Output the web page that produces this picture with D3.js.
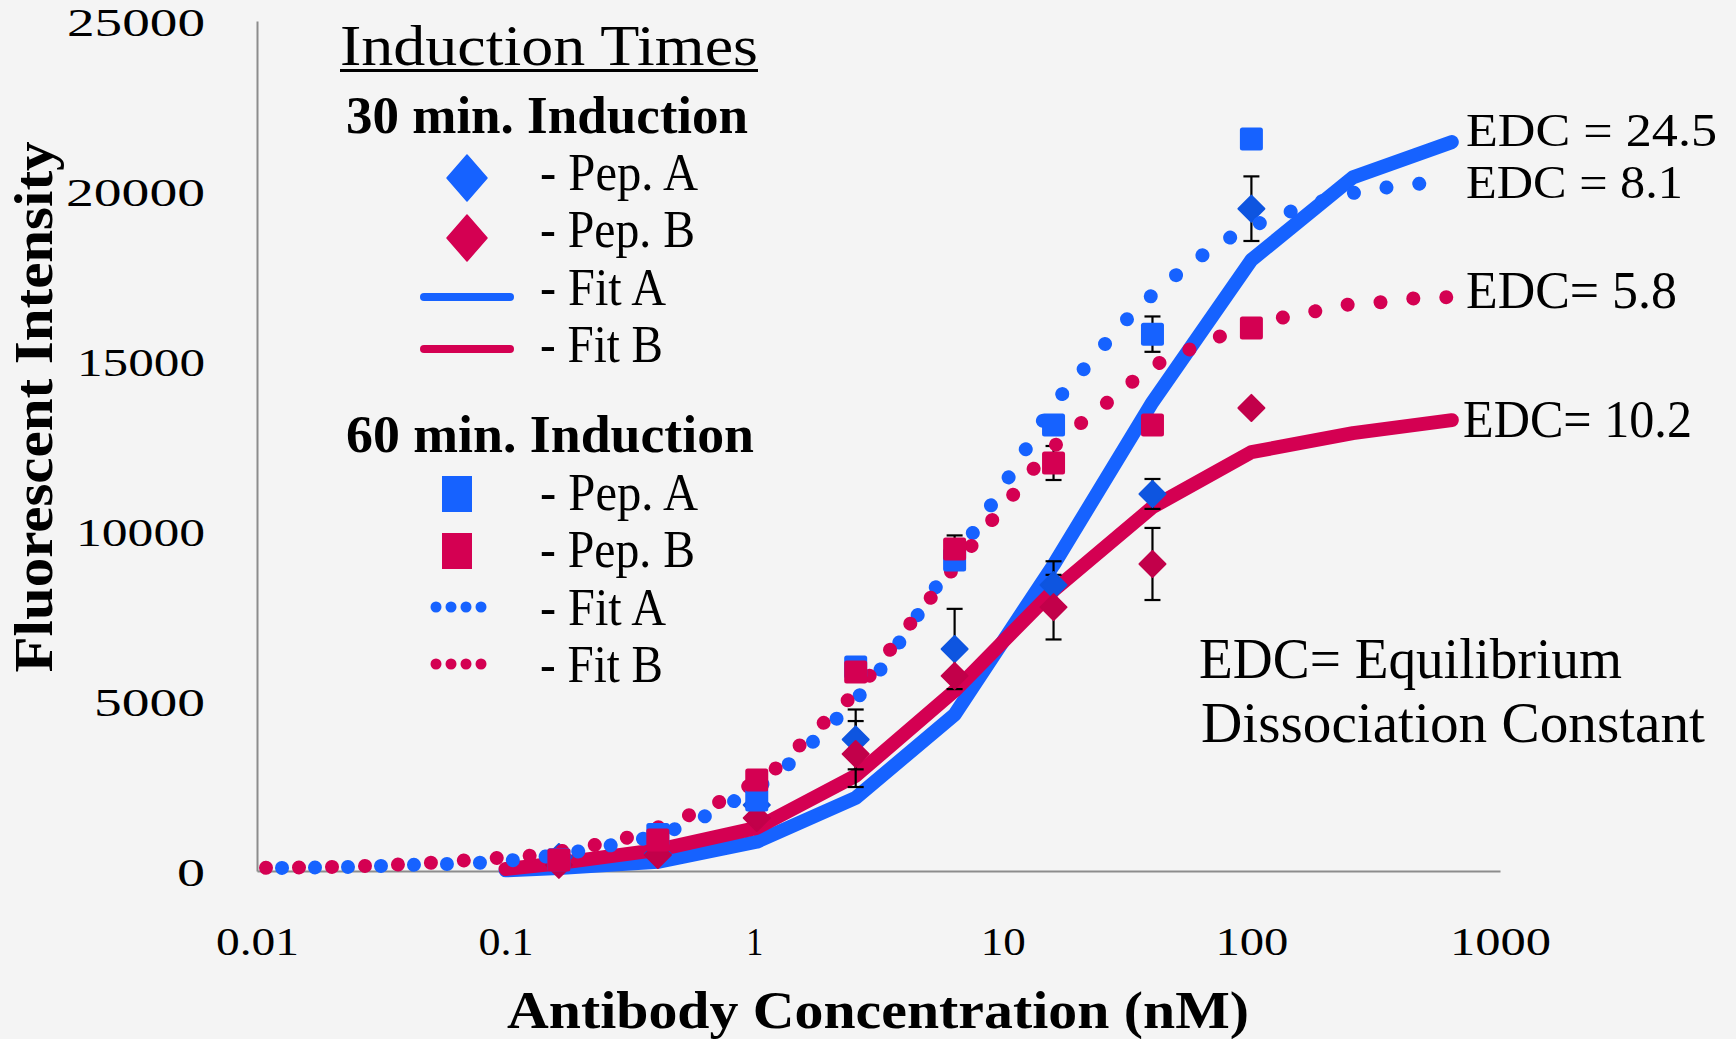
<!DOCTYPE html>
<html><head><meta charset="utf-8">
<script src="https://cdn.jsdelivr.net/npm/d3@7"></script>
<style>html,body{margin:0;padding:0;background:#F4F4F4;overflow:hidden}</style>
</head><body><svg id="chart" width="1736" height="1039"></svg>
<script>
// ---------- DATA ----------
const xTickValues = [0.01, 0.1, 1, 10, 100, 1000];
const xTickLabels = ["0.01", "0.1", "1", "10", "100", "1000"];
const yTickValues = [0, 5000, 10000, 15000, 20000, 25000];
const yTickLabels = ["0", "5000", "10000", "15000", "20000", "25000"];

// measured concentrations (nM)
const conc = [0.16384, 0.4096, 1.024, 2.56, 6.4, 16, 40, 100];
// 30 min induction (diamonds)
const pepA30 = [410, 500, 1940, 3870, 6530, 8410, 11090, 19480];
const pepA30Err = [0, 0, 0, 880, 1180, 700, 440, 950];
const pepB30 = [180, 470, 1560, 3440, 5740, 7760, 9030, 13620];
const pepB30Err = [0, 0, 0, 970, 0, 950, 1060, 0];
// 60 min induction (squares)
const pepA60 = [330, 1070, 2090, 6000, 9150, 13120, 15790, 21530];
const pepA60Err = [0, 0, 0, 0, 0, 0, 520, 0];
const pepB60 = [320, 910, 2680, 5850, 9470, 12000, 13120, 15970];
const pepB60Err = [0, 0, 0, 0, 400, 500, 0, 0];

// 30 min fits (solid)
const fitConc30 = [0.1, 0.16384, 0.4096, 1.024, 2.56, 6.4, 16, 40, 100, 256, 640];
const fitA30 = [20, 90, 270, 860, 2150, 4600, 9000, 13790, 17970, 20400, 21440];
const fitB30 = [60, 230, 620, 1270, 2800, 5300, 8250, 10700, 12320, 12880, 13260];

// 60 min fits (dotted)
const fitConcA60 = [0.01, 0.0126, 0.0232, 0.042, 0.0774, 0.139, 0.246, 0.446, 0.763, 1.26, 1.96, 2.95, 4.2, 5.8, 8.1, 11.2, 15.3, 22.2, 33.1, 51.7, 84.4, 145.6, 256, 468, 640];
const fitA60 = [80, 90, 120, 180, 240, 410, 710, 1150, 1910, 2910, 4200, 5560, 7150, 8710, 10260, 11880, 13500, 14940, 16380, 17620, 18680, 19410, 19940, 20210, 20320];
const fitConcB60 = [0.01, 0.0274, 0.0497, 0.0907, 0.121, 0.2185, 0.294, 0.512, 0.683, 0.885, 1.158, 1.43, 1.77, 2.21, 2.71, 3.27, 3.93, 4.73, 5.69, 8.24, 9.93, 12.05, 14.4, 17.96, 22.6, 28.8, 36.3, 46.6, 61, 80.5, 106, 143, 192, 256, 348, 468, 640];
const fitB60 = [90, 150, 240, 380, 440, 740, 940, 1560, 1940, 2380, 2880, 3500, 4150, 4790, 5470, 6200, 6970, 7700, 8470, 9940, 10680, 11410, 12150, 12790, 13410, 14000, 14620, 15090, 15440, 15820, 16120, 16320, 16500, 16680, 16740, 16850, 16880];

const edcLabels = ["EDC = 24.5", "EDC = 8.1", "EDC= 5.8", "EDC= 10.2"];

// ---------- STYLE ----------
const BLUE = "#1662FF", RED = "#D40052";
const BLUE_D = "#0E55E0", RED_D = "#C2004A";
const FONT = "'Liberation Serif', 'Times New Roman', serif";

const svg = d3.select("#chart");
svg.append("rect").attr("width", 1736).attr("height", 1039).attr("fill", "#F4F4F4");

const x = d3.scaleLog().domain([0.01, 1000]).range([257, 1500]);
const y = d3.scaleLinear().domain([0, 25000]).range([871, 21]);

function txt(parent, str, px, py, size, weight, len, anchor) {
  let sx = px;
  if (anchor === "middle") sx = px - len / 2;
  else if (anchor === "end") sx = px - len;
  return parent.append("text").attr("x", sx).attr("y", py)
    .attr("font-family", FONT).attr("font-size", size).attr("font-weight", weight || "normal")
    .attr("fill", "#000").attr("textLength", len).attr("lengthAdjust", "spacingAndGlyphs")
    .text(str);
}
const digitW = {"0": 28, "1": 17, "2": 27, "5": 27, ".": 10};
const numW = s => s.split("").reduce((a, c) => a + (digitW[c] || 26), 0);

// ---------- AXES ----------
const gx = svg.append("g").attr("transform", "translate(0,871)")
  .call(d3.axisBottom(x).tickValues(xTickValues).tickSize(0).tickSizeOuter(0)
    .tickFormat((d, i) => xTickLabels[i]));
gx.attr("font-family", FONT).attr("font-size", 40);
gx.select(".domain").attr("stroke", "#8C8C8C").attr("stroke-width", 2);
gx.selectAll(".tick text").each(function (d, i) {
  const len = numW(xTickLabels[i]);
  d3.select(this).attr("x", -len / 2).attr("y", 84).attr("dy", null)
    .attr("text-anchor", "start").attr("fill", "#000")
    .attr("textLength", len).attr("lengthAdjust", "spacingAndGlyphs");
});

const gy = svg.append("g").attr("transform", "translate(257,0)")
  .call(d3.axisLeft(y).tickValues(yTickValues).tickSize(0).tickSizeOuter(0)
    .tickFormat((d, i) => yTickLabels[i]));
gy.attr("font-family", FONT).attr("font-size", 40);
gy.select(".domain").attr("stroke", "#8C8C8C").attr("stroke-width", 2);
gy.selectAll(".tick text").each(function (d, i) {
  const len = numW(yTickLabels[i]);
  d3.select(this).attr("x", -52 - len).attr("y", 14).attr("dy", null)
    .attr("text-anchor", "start").attr("fill", "#000")
    .attr("textLength", len).attr("lengthAdjust", "spacingAndGlyphs");
});

// axis titles
txt(svg, "Antibody Concentration (nM)", 878, 1028, 53, "bold", 742, "middle");
const yt = svg.append("g").attr("transform", "translate(52,407) rotate(-90)");
txt(yt, "Fluorescent Intensity", 0, 0, 54, "bold", 531, "middle");

// ---------- SERIES ----------
const plot = svg.append("g");
const solid = (cs, vs) => d3.line().x((d, i) => x(cs[i])).y(d => y(d))(vs);
const smooth = (cs, vs) => d3.line().x((d, i) => x(cs[i])).y(d => y(d)).curve(d3.curveMonotoneX)(vs);

// solid fit lines (30 min)
plot.append("path").attr("d", solid(fitConc30, fitA30)).attr("fill", "none")
  .attr("stroke", BLUE).attr("stroke-width", 14).attr("stroke-linecap", "round").attr("stroke-linejoin", "round");
plot.append("path").attr("d", solid(fitConc30, fitB30)).attr("fill", "none")
  .attr("stroke", RED).attr("stroke-width", 14).attr("stroke-linecap", "round").attr("stroke-linejoin", "round");

// error bars
function errorBars(vals, errs) {
  conc.forEach((c, i) => {
    if (!errs[i]) return;
    const cx = x(c), y1 = y(vals[i] - errs[i]), y2 = y(vals[i] + errs[i]);
    const g = plot.append("g").attr("stroke", "#000").attr("stroke-width", 2.2);
    g.append("line").attr("x1", cx).attr("x2", cx).attr("y1", y1).attr("y2", y2);
    g.append("line").attr("x1", cx - 8).attr("x2", cx + 8).attr("y1", y1).attr("y2", y1);
    g.append("line").attr("x1", cx - 8).attr("x2", cx + 8).attr("y1", y2).attr("y2", y2);
  });
}
errorBars(pepA30, pepA30Err);
errorBars(pepB30, pepB30Err);
errorBars(pepA60, pepA60Err);
errorBars(pepB60, pepB60Err);

// diamonds (30 min)
function diamonds(vals, color) {
  plot.append("g").selectAll("path").data(vals).join("path")
    .attr("transform", (d, i) => `translate(${x(conc[i])},${y(d)})`)
    .attr("d", "M0,-13L13,0L0,13L-13,0Z")
    .attr("fill", color).attr("stroke", color).attr("stroke-width", 2).attr("stroke-linejoin", "round");
}
diamonds(pepA30, BLUE_D);
diamonds(pepB30, RED_D);

// dotted fit lines (60 min)
plot.append("path").attr("d", smooth(fitConcA60, fitA60)).attr("fill", "none")
  .attr("stroke", BLUE).attr("stroke-width", 14).attr("stroke-linecap", "round")
  .attr("stroke-dasharray", "0.01 32.99").attr("stroke-dashoffset", -25);
plot.append("path").attr("d", smooth(fitConcB60, fitB60)).attr("fill", "none")
  .attr("stroke", RED).attr("stroke-width", 14).attr("stroke-linecap", "round")
  .attr("stroke-dasharray", "0.01 32.99").attr("stroke-dashoffset", -9);

// squares (60 min)
function squares(vals, color) {
  plot.append("g").selectAll("rect").data(vals).join("rect")
    .attr("x", (d, i) => x(conc[i]) - 11.5).attr("y", d => y(d) - 11.5)
    .attr("width", 23).attr("height", 23).attr("rx", 2.5)
    .attr("fill", color);
}
squares(pepA60, BLUE);
squares(pepB60, RED);

// ---------- LEGEND ----------
const lg = svg.append("g");
txt(lg, "Induction Times", 340, 65, 58, "normal", 418, "start");
lg.append("rect").attr("x", 340).attr("y", 69).attr("width", 418).attr("height", 3).attr("fill", "#000");
txt(lg, "30 min. Induction", 346, 133, 52, "bold", 402, "start");
txt(lg, "60 min. Induction", 346, 452, 52, "bold", 408, "start");

const legText = ["- Pep. A", "- Pep. B", "- Fit A", "- Fit B"];
const legLen = [158, 155, 126, 123];
const base30 = [190, 247, 305, 362], base60 = [510, 567, 625, 682];
legText.forEach((t, i) => {
  txt(lg, t, 540, base30[i], 52, "normal", legLen[i], "start");
  txt(lg, t, 540, base60[i], 52, "normal", legLen[i], "start");
});
[[178, BLUE], [238, RED]].forEach(([cy, col]) => {
  lg.append("path").attr("d", `M467,${cy - 23}L487,${cy}L467,${cy + 23}L447,${cy}Z`)
    .attr("fill", col).attr("stroke", col).attr("stroke-width", 1.5).attr("stroke-linejoin", "round");
});
[[297, BLUE], [349, RED]].forEach(([ly, col]) => {
  lg.append("line").attr("x1", 424).attr("x2", 510).attr("y1", ly).attr("y2", ly)
    .attr("stroke", col).attr("stroke-width", 8).attr("stroke-linecap", "round");
});
[[494, BLUE], [551, RED]].forEach(([cy, col]) => {
  lg.append("rect").attr("x", 442).attr("y", cy - 18).attr("width", 30).attr("height", 36).attr("fill", col);
});
[[607, BLUE], [664, RED]].forEach(([cy, col]) => {
  [436, 451, 466, 481].forEach(cx => lg.append("circle").attr("cx", cx).attr("cy", cy).attr("r", 5.5).attr("fill", col));
});

// ---------- ANNOTATIONS ----------
const edcX = [1466, 1466, 1466, 1463], edcY = [146, 198, 308, 437], edcLen = [251, 217, 211, 229];
const edcSize = [47, 47, 53, 53];
edcLabels.forEach((t, i) => txt(svg, t, edcX[i], edcY[i], edcSize[i], "normal", edcLen[i], "start"));
txt(svg, "EDC= Equilibrium", 1199, 678, 56, "normal", 423, "start");
txt(svg, "Dissociation Constant", 1201, 742, 56, "normal", 504, "start");
</script>
</body></html>
